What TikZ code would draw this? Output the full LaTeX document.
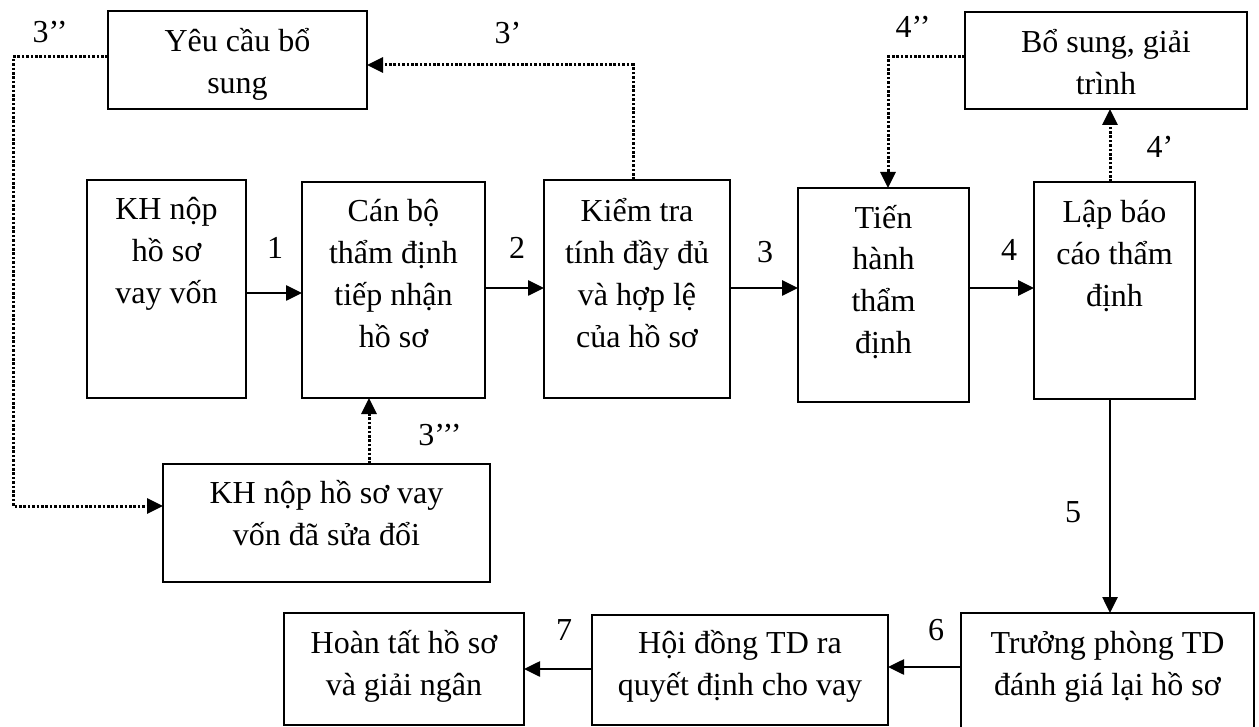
\documentclass[tikz,border=0pt]{standalone}
\usepackage{fontspec}
\setmainfont{Liberation Serif}
\usetikzlibrary{arrows.meta}
\tikzset{
  box/.style={draw, line width=1.6pt, inner sep=0pt, outer sep=0pt},
  txt/.style={font=\fontsize{32}{42}\selectfont},
  arr/.style={line width=2.6pt, -{Triangle[length=16pt,width=15pt]}},
  dotarr/.style={line width=3pt, dash pattern=on 2.6pt off 1.8pt, -{Triangle[length=16pt,width=15pt]}},
  lab/.style={font=\fontsize{32}{42}\selectfont, inner sep=0pt}
}
\newcommand{\bxt}[4]{\parbox[c][#2pt][t]{#1pt}{\centering\rule{0pt}{#3pt}#4}}
\begin{document}
\begin{tikzpicture}[x=1pt,y=-1pt]
\useasboundingbox (0,0) rectangle (1259,727);
\begin{scope}
\clip (0,0) rectangle (1259,727);
% boxes
\node[box,txt] (ycbs) at (237.5,60) {\bxt{259}{98}{41}{Yêu cầu bổ\\sung}};
\node[box,txt] (bsgt) at (1106,60.5) {\bxt{282}{97}{41}{Bổ sung, giải\\trình}};
\node[box,txt] (khn) at (166.5,289) {\bxt{159}{218}{40}{KH nộp\\hồ sơ\\vay vốn}};
\node[box,txt] (cb) at (393.5,290) {\bxt{183}{216}{40}{Cán bộ\\thẩm định\\tiếp nhận\\hồ sơ}};
\node[box,txt] (kt) at (637,289) {\bxt{186}{218}{42}{Kiểm tra\\tính đầy đủ\\và hợp lệ\\của hồ sơ}};
\node[box,txt] (th) at (883.5,295) {\bxt{171}{214}{40}{Tiến\\hành\\thẩm\\định}};
\node[box,txt] (lbc) at (1114.5,290.5) {\bxt{161}{217}{41}{Lập báo\\cáo thẩm\\định}};
\node[box,txt] (ksd) at (326.5,523) {\bxt{327}{118}{39}{KH nộp hồ sơ vay\\vốn đã sửa đổi}};
\node[box,txt] (hts) at (404,669) {\bxt{240}{112}{40}{Hoàn tất hồ sơ\\và giải ngân}};
\node[box,txt] (hd) at (740,670) {\bxt{296}{110}{38}{Hội đồng TD ra\\quyết định cho vay}};
\node[box,txt] (tp) at (1107.5,679) {\bxt{293}{132}{40}{Trưởng phòng TD\\đánh giá lại hồ sơ}};
\end{scope}
% helper coordinates
\coordinate (r1) at (0,293);
\coordinate (r2) at (0,288);
\coordinate (r6) at (0,667);
\coordinate (r7) at (0,669);
\coordinate (r3) at (0,65);
\coordinate (r57) at (0,57);
\coordinate (r506) at (0,506);
\coordinate (c5) at (1110,0);
\coordinate (c3) at (633,0);
\coordinate (cL) at (13,0);
\coordinate (c888) at (888,0);
\coordinate (c369) at (369,0);
% solid arrows
\draw[arr] (khn.east |- r1) -- (cb.west |- r1);
\draw[arr] (cb.east |- r2) -- (kt.west |- r2);
\draw[arr] (kt.east |- r2) -- (th.west |- r2);
\draw[arr] (th.east |- r2) -- (lbc.west |- r2);
\draw[arr] (lbc.south -| c5) -- (tp.north -| c5);
\draw[arr] (tp.west |- r6) -- (hd.east |- r6);
\draw[arr] (hd.west |- r7) -- (hts.east |- r7);
% dotted arrows
\draw[dotarr] (kt.north -| c3) |- (ycbs.east |- r3);
\draw[dotarr] (ycbs.west |- r57) -| (cL |- r506) -- (ksd.west |- r506);
\draw[dotarr] (bsgt.west |- r57) -| (th.north -| c888);
\draw[dotarr] (lbc.north -| c5) -- (bsgt.south -| c5);
\draw[dotarr] (ksd.north -| c369) -- (cb.south -| c369);
% labels
\node[lab] (l1) at (275,248) {1};
\node[lab] (l2) at (517,248) {2};
\node[lab] (l3) at (765,252) {3};
\node[lab] (l4) at (1009,250) {4};
\node[lab] (l5) at (1073,512) {5};
\node[lab] (l6) at (936,630) {6};
\node[lab] (l7) at (564,630) {7};
\node[lab] (l3a) at (508,33) {3’};
\node[lab] (l3b) at (50,32) {3’’};
\node[lab] (l4b) at (913,27) {4’’};
\node[lab] (l4a) at (1160,147) {4’};
\node[lab] (l3c) at (440,435) {3’’’};
\end{tikzpicture}
\end{document}
